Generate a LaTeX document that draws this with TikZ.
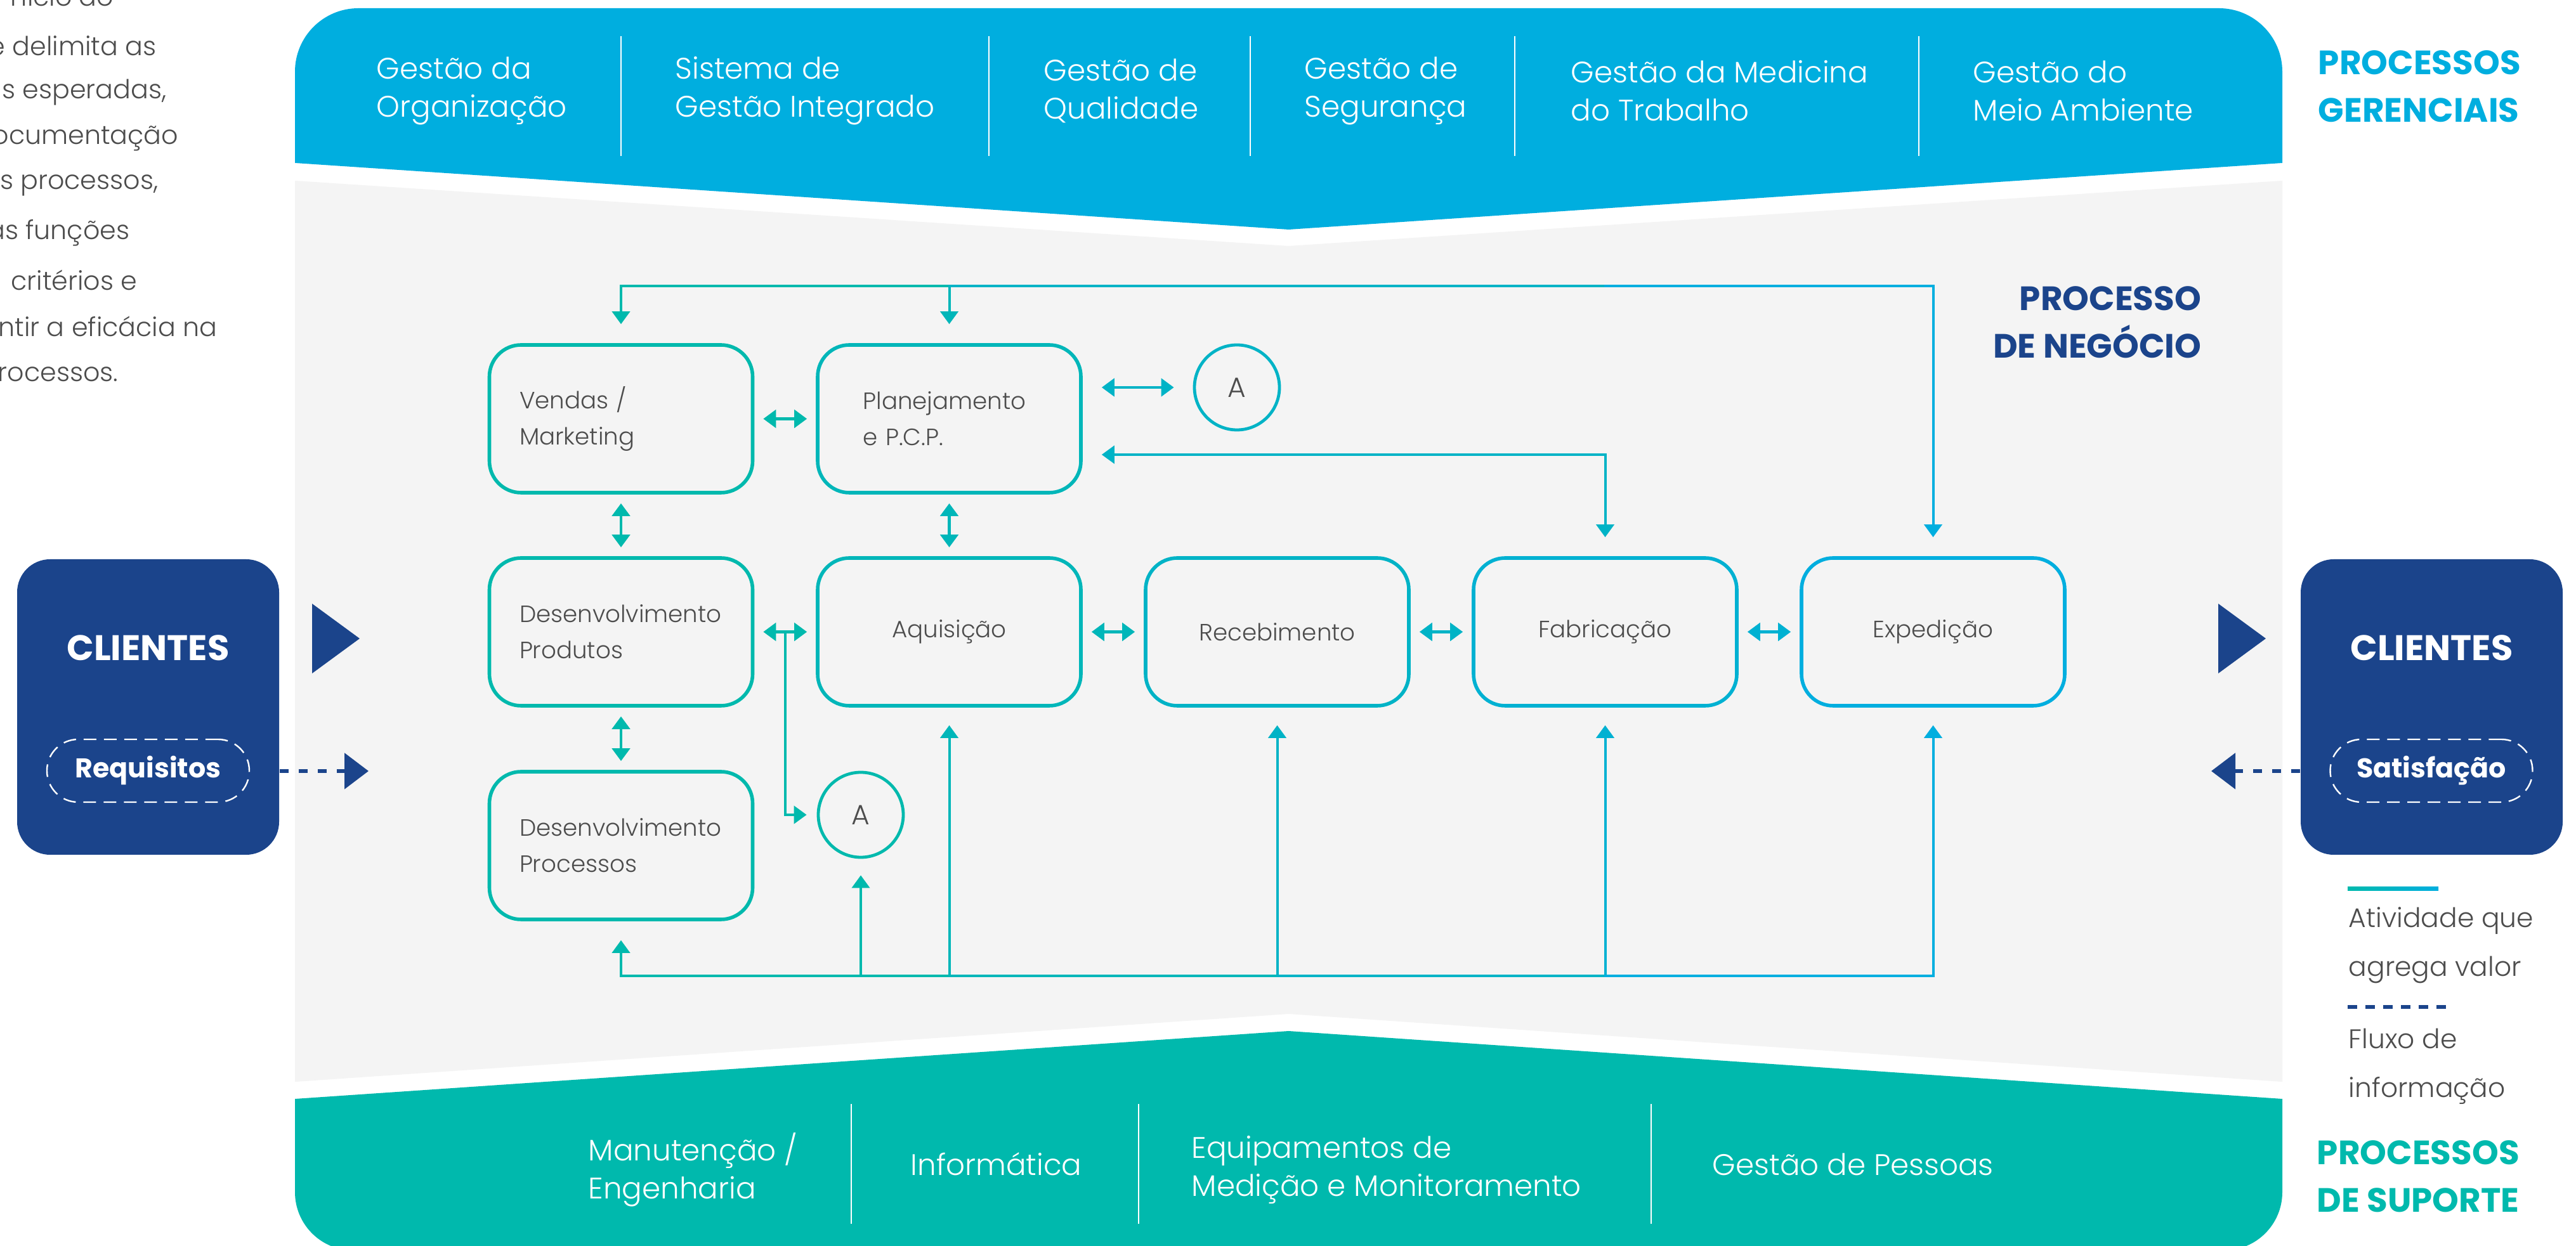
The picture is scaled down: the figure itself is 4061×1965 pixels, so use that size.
\documentclass[tikz,border=0pt]{standalone}
\usepackage{fontspec}
\IfFontExistsTF{Poppins Light}
  {\setmainfont{Poppins}[UprightFont={* Light}, BoldFont={* Bold}]}
  {\setmainfont{Poppins}}
\usetikzlibrary{arrows.meta}
\definecolor{cyanb}{HTML}{00AEDF}
\definecolor{tealb}{HTML}{00B9AD}
\definecolor{navyb}{HTML}{1B448B}
\definecolor{graybg}{HTML}{F4F4F4}
\definecolor{txtg}{HTML}{4D4D4D}
\colorlet{cA}{tealb}
\colorlet{cB}{tealb!75!cyanb}
\colorlet{cC}{tealb!50!cyanb}
\colorlet{cD}{tealb!25!cyanb}
\colorlet{cE}{cyanb}
\tikzset{
  procbox/.style={draw=#1, line width=1.4pt, rounded corners=12.5pt,
    minimum width=103.75pt, minimum height=58.25pt, fill=graybg,
    font=\fontsize{9.3}{14.3}\selectfont, text=txtg, inner sep=0pt},
  leftbox/.style={procbox=#1, text width=80pt, align=left},
  circA/.style={draw=#1, circle, line width=1.2pt, minimum size=33.5pt,
    inner sep=0pt, fill=graybg, font=\fontsize{11}{13}\selectfont, text=txtg},
  ln/.style={draw=#1, line width=1pt, line cap=rect},
  dbl/.style={draw=#1, line width=1.2pt, <->, shorten <=3.5pt, shorten >=3.5pt},
  dsh/.style={draw=navyb, line width=1.5pt, dash pattern=on 3.5pt off 4pt,
    -{Triangle[length=9.5pt,width=14pt]}},
  cli/.style={fill=navyb, rounded corners=13pt, minimum width=103.25pt,
    minimum height=116.5pt, inner sep=0pt},
  clitxt/.style={font=\bfseries\fontsize{14}{16}\selectfont, text=white},
  pill/.style={draw=white, line width=0.6pt, dash pattern=on 5pt off 3pt,
    rounded corners=12.3pt, minimum width=79.75pt, minimum height=24.75pt,
    font=\bfseries\fontsize{10.7}{13}\selectfont, text=white, inner sep=0pt},
  bandtxt/.style={anchor=west, align=left, text=white, inner sep=0pt,
    font=\fontsize{11.7}{15}\selectfont},
  heading/.style={inner sep=0pt, font=\bfseries\fontsize{13.3}{18.75}\selectfont},
  sep/.style={draw=white, line width=0.5pt},
  para/.style={anchor=east, text=txtg, font=\fontsize{10.3}{13}\selectfont, inner sep=0pt},
  legtxt/.style={anchor=west, align=left, text=txtg, inner sep=0pt,
    font=\fontsize{10.6}{19.25}\selectfont},
  >={Triangle[length=5pt,width=7pt]}
}
\begin{document}
\begin{tikzpicture}[x=0.25pt,y=-0.25pt]
\useasboundingbox (0,0) rectangle (4061,1965);
\fill[white] (0,0) rectangle (4061,1965);
\begin{scope}
\clip (0,0) rectangle (4061,1965);
% background regions
\fill[graybg] (465,285) -- (2031.5,388) -- (3598,285) -- (3598,1706)
  -- (2031.5,1599) -- (465,1706) -- cycle;
\fill[cyanb] (465,257) -- (465,113) arc[start angle=180,end angle=270,radius=100]
  -- (3498,13) arc[start angle=270,end angle=360,radius=100]
  -- (3598,257) -- (2031.5,362) -- cycle;
\fill[tealb] (465,1733) -- (2031.5,1626) -- (3598,1733) -- (3598,1880)
  arc[start angle=0,end angle=90,radius=92] -- (557,1972)
  arc[start angle=90,end angle=180,radius=92] -- cycle;
% left paragraph fragments
\node[para] (p0) at (180,-6) {nício do};
\node[para] (p1) at (247,72) {e delimita as};
\node[para] (p2) at (263,146) {as esperadas,};
\node[para] (p3) at (282,218) {ocumentação};
\node[para] (p4) at (250,292) {s processos,};
\node[para] (p5) at (205,367) {as funções};
\node[para] (p6) at (217,442) {critérios e};
\node[para] (p7) at (343,515) {ntir a eficácia na};
\node[para] (p8) at (187,590) {rocessos.};
\end{scope}
% top band texts
\node[bandtxt] (g1) at (593,143) {Gestão da\\Organização};
\node[bandtxt] (g2) at (1064,143) {Sistema de\\Gestão Integrado};
\node[bandtxt] (g3) at (1645,143) {Gestão de\\Qualidade};
\node[bandtxt] (g4) at (2056,143) {Gestão de\\Segurança};
\node[bandtxt] (g5) at (2476,143) {Gestão da Medicina\\do Trabalho};
\node[bandtxt] (g6) at (3110,143) {Gestão do\\Meio Ambiente};
\foreach \x in {979,1559,1971,2388,3025} \draw[sep] (\x,57) -- (\x,246);
% bottom band texts
\node[bandtxt] (s1) at (927,1845) {Manutenção /\\Engenharia};
\node[bandtxt] (s2) at (1435,1836) {Informática};
\node[bandtxt] (s3) at (1878,1845) {Equipamentos de\\Medição e Monitoramento};
\node[bandtxt] (s4) at (2699,1836) {Gestão de Pessoas};
\foreach \x in {1342,1795,2603} \draw[sep] (\x,1741) -- (\x,1930);
% headings
\node[heading, anchor=west, align=left, text=cyanb] (h1) at (3654,136) {PROCESSOS\\GERENCIAIS};
\node[heading, anchor=east, align=right, text=navyb] (h2) at (3471,508) {PROCESSO\\DE NEGÓCIO};
\node[heading, anchor=west, align=left, text=tealb] (h3) at (3652,1855) {PROCESSOS\\DE SUPORTE};
% clients
\node[cli] (cliL) at (233.5,1115) {};
\node[clitxt] (cltL) at (233.5,1022) {CLIENTES};
\node[pill] (req) at (233.5,1215.5) {Requisitos};
\node[cli] (cliR) at (3833.5,1115) {};
\node[clitxt] (cltR) at (3833.5,1022) {CLIENTES};
\node[pill] (sat) at (3833,1215.5) {Satisfação};
\fill[navyb] (492,952) -- (492,1062) -- (567,1007) -- cycle;
\fill[navyb] (3497,952) -- (3497,1062) -- (3572,1007) -- cycle;
\coordinate (dtl) at (581,1216);
\coordinate (dtr) at (3486,1216);
\draw[dsh] (cliL.east|-dtl) -- (dtl);
\draw[dsh] (cliR.west|-dtr) -- (dtr);
% legend
\shade[left color=tealb, right color=cyanb] (3701,1399) rectangle (3844,1405);
\node[legtxt] (l1) at (3702,1491) {Atividade que\\agrega valor};
\draw[navyb, line width=1.4pt, dash pattern=on 3.75pt off 3.25pt] (3701,1588) -- (3862,1588);
\node[legtxt] (l2) at (3702,1682) {Fluxo de\\informação};
% process boxes
\node[leftbox=cA] (ven) at (979,660.5) {Vendas /\\Marketing};
\node[procbox=cB, text width=68pt, align=left] (plan) at (1496.5,660.5) {Planejamento\\e P.C.P.};
\node[circA=cC] (atop) at (1950,611) {A};
\node[leftbox=cA] (dprod) at (979,996.5) {Desenvolvimento\\Produtos};
\node[procbox=cB] (aq) at (1496.5,996.5) {Aquisição};
\node[procbox=cC] (rec) at (2013.5,996.5) {Recebimento};
\node[procbox=cD] (fab) at (2530.5,996.5) {Fabricação};
\node[procbox=cE] (exp) at (3047.5,996.5) {Expedição};
\node[leftbox=cA] (dproc) at (979,1333.5) {Desenvolvimento\\Processos};
\node[circA=cA] (abot) at (1357,1285) {A};
% connectors
\coordinate (bt) at (0,451);
\coordinate (bb) at (0,1539);
\coordinate (pf) at (0,717);
\coordinate (jn) at (1238,996.5);
\draw[ln=cA,->,shorten >=7.5pt] (ven.north|-bt) -- (ven.north);
\draw[ln=cB,->,shorten >=7.5pt] (plan.north|-bt) -- (plan.north);
\draw[ln=cA] (ven.north|-bt) -- (plan.north|-bt);
\draw[ln=cC] (plan.north|-bt) -- (fab.north|-bt);
\draw[ln=cE,->,shorten >=7.5pt] (fab.north|-bt) -- (exp.north|-bt) -- (exp.north);
\draw[ln=cC,<->,shorten <=7.5pt,shorten >=7.5pt] (plan.east|-pf) -- (fab.north|-pf) -- (fab.north);
\draw[dbl=cC,shorten <=7.5pt,shorten >=7.5pt] (plan.east|-atop) -- (atop.west);
\draw[dbl=cA] (ven.east) -- (plan.west);
\draw[dbl=cA] (ven.south) -- (dprod.north);
\draw[dbl=cB] (plan.south) -- (aq.north);
\draw[dbl=cA] (dprod.south) -- (dproc.north);
\draw[dbl=cA] (dprod.east) -- (aq.west);
\draw[dbl=cB] (aq.east) -- (rec.west);
\draw[dbl=cC] (rec.east) -- (fab.west);
\draw[dbl=cD] (fab.east) -- (exp.west);
\draw[ln=cA,->,shorten >=4pt] (jn) |- (abot.west);
\draw[ln=cA,->,shorten >=7.5pt] (dproc.south|-bb) -- (dproc.south);
\draw[ln=cA] (dproc.south|-bb) -- (aq.south|-bb);
\draw[ln=cA,->,shorten >=6.5pt] (abot.south|-bb) -- (abot.south);
\draw[ln=cB,->,shorten >=7pt] (aq.south|-bb) -- (aq.south);
\draw[ln=cB] (aq.south|-bb) -- (rec.south|-bb);
\draw[ln=cC,->,shorten >=7pt] (rec.south|-bb) -- (rec.south);
\draw[ln=cC] (rec.south|-bb) -- (fab.south|-bb);
\draw[ln=cD,->,shorten >=7pt] (fab.south|-bb) -- (fab.south);
\draw[ln=cE,->,shorten >=7pt] (fab.south|-bb) -- (exp.south|-bb) -- (exp.south);
\end{tikzpicture}
\end{document}
